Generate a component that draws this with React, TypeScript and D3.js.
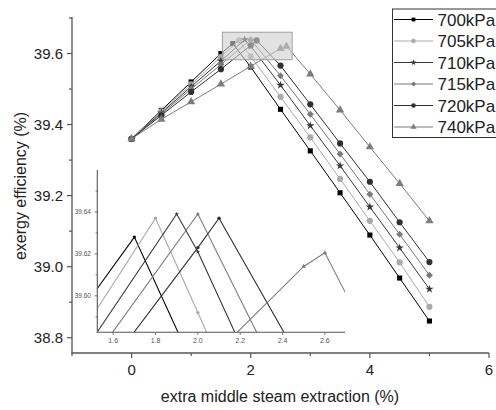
import React from 'react'
import * as d3 from 'd3'

// pressures and their points (x = extra middle steam extraction %, y = exergy efficiency %)
const SERIES_NAMES = ['700kPa', '705kPa', '710kPa', '715kPa', '720kPa', '740kPa']
const X700 = [0, 0.5, 1, 1.5, 1.7, 2, 2.5, 3, 3.5, 4, 4.5, 5]
const Y700 = [39.36, 39.44, 39.52, 39.6, 39.628, 39.562, 39.443, 39.326, 39.208, 39.089, 38.968, 38.847]
const X705 = [0, 0.5, 1, 1.5, 1.8, 2, 2.5, 3, 3.5, 4, 4.5, 5]
const Y705 = [39.36, 39.437, 39.513, 39.59, 39.637, 39.592, 39.478, 39.364, 39.247, 39.129, 39.012, 38.887]
const X710 = [0, 0.5, 1, 1.5, 1.9, 2, 2.5, 3, 3.5, 4, 4.5, 5]
const Y710 = [39.36, 39.433, 39.507, 39.579, 39.639, 39.621, 39.511, 39.397, 39.284, 39.168, 39.053, 38.937]
const X715 = [0, 0.5, 1, 1.5, 2, 2.5, 3, 3.5, 4, 4.5, 5]
const Y715 = [39.36, 39.43, 39.5, 39.569, 39.639, 39.5375, 39.429, 39.317, 39.204, 39.091, 38.976]
const X720 = [0, 0.5, 1, 1.5, 2, 2.1, 2.5, 3, 3.5, 4, 4.5, 5]
const Y720 = [39.36, 39.426, 39.492, 39.556, 39.623, 39.637, 39.566, 39.457, 39.347, 39.239, 39.125, 39.013]
const X740 = [0, 0.5, 1, 1.5, 2, 2.5, 2.6, 3, 3.5, 4, 4.5, 5]
const Y740 = [39.36, 39.415, 39.464, 39.514, 39.564, 39.614, 39.6205, 39.542, 39.441, 39.337, 39.234, 39.129]

const X_TICKS = [0, 2, 4, 6]
const X_MINOR = [-1, 1, 3, 5]
const Y_TICKS = [38.8, 39.0, 39.2, 39.4, 39.6]
const Y_MINOR = [38.9, 39.1, 39.3, 39.5, 39.7]
const INSET_X_TICKS = [1.6, 1.8, 2.0, 2.2, 2.4, 2.6]
const INSET_Y_TICKS = [39.6, 39.62, 39.64]
const INSET_Y_MINOR = [39.59, 39.61, 39.63, 39.65]
const ZOOM_X = [1.525, 2.695]
const ZOOM_Y = [39.5826, 39.66]

const COLORS = ['#000000', '#aaaaaa', '#383838', '#7a7a7a', '#303030', '#7d7d7d']
const SYMBOLS = [d3.symbolSquare, d3.symbolCircle, d3.symbolStar, d3.symbolSquare, d3.symbolCircle, d3.symbolTriangle]
const ROTATE = [0, 0, 0, 45, 0, 0]
const SIZES = [26, 30, 22, 24, 30, 30]

const FONT = 'Liberation Sans, Arial, sans-serif'

const seriesData = [
  [X700, Y700], [X705, Y705], [X710, Y710], [X715, Y715], [X720, Y720], [X740, Y740],
].map(([xs, ys], i) => ({ name: SERIES_NAMES[i], pts: xs.map((x, j) => [x, ys[j]] as [number, number]) }))

function marker(i: number, cx: number, cy: number, scale: number, key?: number) {
  return (
    <path key={key} transform={`translate(${cx},${cy}) rotate(${ROTATE[i]})`}
      d={d3.symbol(SYMBOLS[i], SIZES[i] * scale)() || ''} fill={COLORS[i]} />
  )
}

export default function App() {
  const W = 496
  const H = 410
  const x = d3.scaleLinear().domain([-1, 6]).range([72, 489])
  const y = d3.scaleLinear().domain([38.757, 39.7]).range([353, 18])

  const ix = d3.scaleLinear().domain(ZOOM_X).range([97.3, 345])
  const iy = d3.scaleLinear().domain(ZOOM_Y).range([332.3, 170])

  const line = d3.line<[number, number]>().x((d) => x(d[0])).y((d) => y(d[1]))
  const iline = d3.line<[number, number]>().x((d) => ix(d[0])).y((d) => iy(d[1]))

  const axisCol = '#555'

  return (
    <svg width={W} height={H} style={{ position: 'absolute', left: 0, top: 0, fontFamily: FONT }}>
      <rect width={W} height={H} fill="#fff" />
      <defs>
        <clipPath id="insetClip">
          <rect x={ix.range()[0]} y={iy.range()[1]} width={ix.range()[1] - ix.range()[0]} height={iy.range()[0] - iy.range()[1]} />
        </clipPath>
      </defs>

      {/* main series */}
      {seriesData.map((s, i) => (
        <g key={s.name}>
          <path d={line(s.pts) || ''} fill="none" stroke={COLORS[i]} strokeWidth={1} />
          {s.pts.map((p, j) => marker(i, x(p[0]), y(p[1]), 1, j))}
        </g>
      ))}

      {/* zoom box */}
      <rect x={x(ZOOM_X[0])} y={y(ZOOM_Y[1])} width={x(ZOOM_X[1]) - x(ZOOM_X[0])} height={y(ZOOM_Y[0]) - y(ZOOM_Y[1])}
        fill="#cfcfcf" fillOpacity={0.6} stroke="#a0a0a0" strokeWidth={1} />

      {/* main axes */}
      <line x1={72} x2={72} y1={17} y2={353.5} stroke={axisCol} strokeWidth={1.3} />
      <line x1={71.5} x2={489} y1={353} y2={353} stroke={axisCol} strokeWidth={1.3} />
      {Y_TICKS.map((t) => (
        <g key={t}>
          <line x1={67} x2={72} y1={y(t)} y2={y(t)} stroke={axisCol} strokeWidth={1.2} />
          <text x={63} y={y(t) + 5.5} textAnchor="end" fontSize={15} fill="#222">{t.toFixed(1)}</text>
        </g>
      ))}
      {Y_MINOR.map((t) => (
        <line key={t} x1={69} x2={72} y1={y(t)} y2={y(t)} stroke={axisCol} strokeWidth={1.2} />
      ))}
      {X_TICKS.map((t) => (
        <g key={t}>
          <line x1={x(t)} x2={x(t)} y1={353} y2={358} stroke={axisCol} strokeWidth={1.2} />
          <text x={x(t)} y={375} textAnchor="middle" fontSize={15} fill="#222">{t}</text>
        </g>
      ))}
      {X_MINOR.map((t) => (
        <line key={t} x1={x(t)} x2={x(t)} y1={353} y2={356} stroke={axisCol} strokeWidth={1.2} />
      ))}
      <text x={280} y={402} textAnchor="middle" fontSize={16} fill="#222">extra middle steam extraction (%)</text>
      <text transform="translate(26,186) rotate(-90)" textAnchor="middle" fontSize={16} fill="#222">exergy efficiency (%)</text>

      {/* inset */}
      <g clipPath="url(#insetClip)">
        {seriesData.map((s, i) => (
          <g key={s.name}>
            <path d={iline(s.pts) || ''} fill="none" stroke={COLORS[i]} strokeWidth={1.1} />
            {s.pts.map((p, j) => marker(i, ix(p[0]), iy(p[1]), 0.3, j))}
          </g>
        ))}
      </g>
      <line x1={97.3} x2={97.3} y1={170} y2={332.8} stroke={axisCol} strokeWidth={1.1} />
      <line x1={97} x2={345} y1={332.3} y2={332.3} stroke={axisCol} strokeWidth={1.1} />
      {INSET_X_TICKS.map((t) => (
        <g key={t}>
          <line x1={ix(t)} x2={ix(t)} y1={332.3} y2={335} stroke={axisCol} strokeWidth={0.8} />
          <text x={ix(t)} y={342.5} textAnchor="middle" fontSize={7} fill="#555">{t.toFixed(1)}</text>
        </g>
      ))}
      {INSET_Y_TICKS.map((t) => (
        <g key={t}>
          <line x1={94.5} x2={97.3} y1={iy(t)} y2={iy(t)} stroke={axisCol} strokeWidth={0.8} />
          <text x={91} y={iy(t) + 2.3} textAnchor="end" fontSize={6.5} fill="#555">{t.toFixed(2)}</text>
        </g>
      ))}
      {INSET_Y_MINOR.map((t) => (
        <line key={t} x1={95.5} x2={97.3} y1={iy(t)} y2={iy(t)} stroke={axisCol} strokeWidth={0.8} />
      ))}

      {/* legend */}
      <rect x={392.5} y={9} width={120} height={128.5} fill="#fff" stroke="#333" strokeWidth={1} />
      {seriesData.map((s, i) => {
        const cy = 19.5 + i * 21.5
        return (
          <g key={s.name}>
            <line x1={394} x2={433} y1={cy} y2={cy} stroke={COLORS[i]} strokeWidth={1} />
            {marker(i, 413.5, cy, 0.55)}
            <text x={437.5} y={cy + 6} fontSize={17} fill="#222">{s.name}</text>
          </g>
        )
      })}
    </svg>
  )
}
